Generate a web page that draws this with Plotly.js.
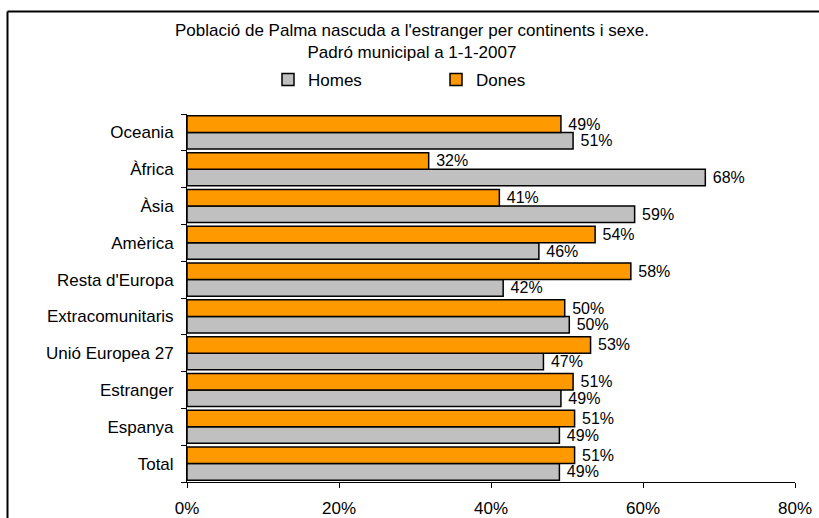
<!DOCTYPE html>
<html>
<head>
<meta charset="utf-8">
<script src="https://cdn.plot.ly/plotly-3.0.1.min.js"></script>
<style>
  html, body { margin: 0; padding: 0; background: #ffffff; }
  #chart { width: 819px; height: 518px; }
</style>
</head>
<body>
<div id="chart"></div>
<script>
// Categories, bottom to top
const categories = ["Total", "Espanya", "Estranger", "Unió Europea 27", "Extracomunitaris",
                    "Resta d'Europa", "Amèrica", "Àsia", "Àfrica", "Oceania"];
// Percentages by sex
const homes = [49.0, 49.0, 49.2, 46.9, 50.3, 41.6, 46.3, 58.9, 68.2, 50.8];
const dones = [51.0, 51.0, 50.8, 53.1, 49.7, 58.4, 53.7, 41.1, 31.8, 49.2];
const xTicks = [0, 20, 40, 60, 80];

const FONT = '"Liberation Sans", Arial, sans-serif';
const FS = 17;

const common = {
  type: 'bar',
  orientation: 'h',
  y: categories,
  textposition: 'outside',
  texttemplate: ' %{x:.0f}%',
  textfont: { family: FONT, size: 16, color: '#000000' },
  constraintext: 'none',
  cliponaxis: false,
  hoverinfo: 'skip'
};

const traces = [
  Object.assign({}, common, {
    name: 'Homes',
    x: homes,
    marker: { color: '#C0C0C0', line: { color: '#000000', width: 1.5 } }
  }),
  Object.assign({}, common, {
    name: 'Dones',
    x: dones,
    marker: { color: '#FF9900', line: { color: '#000000', width: 1.5 } }
  })
];

const L = 187, R = 795, T = 114, B = 482;
const pw = R - L, ph = B - T;
const fx = px => (px - L) / pw;
const fy = py => (B - py) / ph;

const layout = {
  width: 819,
  height: 518,
  margin: { l: L, r: 819 - R, t: T, b: 518 - B, pad: 0 },
  paper_bgcolor: '#ffffff',
  plot_bgcolor: '#ffffff',
  font: { family: FONT, size: FS, color: '#000000' },
  barmode: 'group',
  bargap: 0.1,
  bargroupgap: 0,
  title: {
    text: "Població de Palma nascuda a l'estranger per continents i sexe.<br>Padró municipal a 1-1-2007",
    font: { family: FONT, size: FS, color: '#000000' },
    xref: 'container', x: 0.503, xanchor: 'center',
    yref: 'container', y: 1 - 36 / 518, yanchor: 'top'
  },
  showlegend: true,
  legend: {
    orientation: 'h',
    xref: 'paper', x: fx(268), xanchor: 'left',
    yref: 'paper', y: fy(62), yanchor: 'top',
    font: { family: FONT, size: FS, color: '#000000' },
    entrywidth: 123,
    traceorder: 'normal',
    bgcolor: 'rgba(0,0,0,0)'
  },
  xaxis: {
    range: [0, 80],
    tickvals: xTicks,
    ticktext: xTicks.map(v => v + '%'),
    showgrid: false,
    zeroline: false,
    showline: true,
    linecolor: '#000000',
    linewidth: 1,
    ticks: 'outside',
    ticklen: 5,
    tickcolor: '#000000',
    ticklabelstandoff: 6,
    tickfont: { family: FONT, size: FS, color: '#000000' },
    fixedrange: true
  },
  yaxis: {
    type: 'category',
    categoryorder: 'array',
    categoryarray: categories,
    showgrid: false,
    zeroline: false,
    showline: true,
    linecolor: '#000000',
    linewidth: 1,
    ticks: 'outside',
    tickson: 'boundaries',
    ticklen: 5,
    tickcolor: '#000000',
    ticklabelstandoff: 9,
    tickfont: { family: FONT, size: FS, color: '#000000' },
    fixedrange: true
  },
  shapes: [
    { type: 'line', xref: 'paper', yref: 'paper', x0: fx(7.5), x1: fx(7.5), y0: fy(560), y1: fy(11.5),
      line: { color: '#000000', width: 2 } },
    { type: 'line', xref: 'paper', yref: 'paper', x0: fx(7.5), x1: fx(860), y0: fy(11.5), y1: fy(11.5),
      line: { color: '#000000', width: 2 } }
  ]
};

Plotly.newPlot('chart', traces, layout, { displayModeBar: false, staticPlot: true });
</script>
</body>
</html>
